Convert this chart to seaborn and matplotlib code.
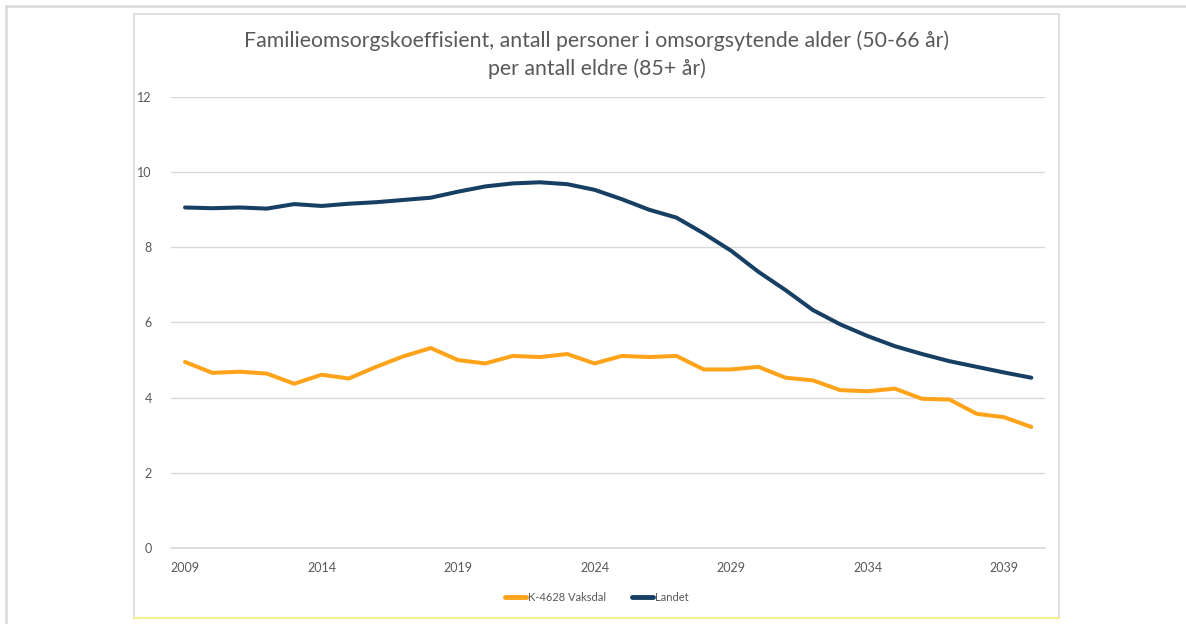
import matplotlib.pyplot as plt
import matplotlib.patches as mpatches
import matplotlib.lines as mlines
import pandas as pd
import seaborn as sns

AAR = list(range(2009, 2041))
VAKSDAL = [4.95, 4.66, 4.69, 4.64, 4.37, 4.61, 4.51, 4.82, 5.10, 5.32,
           5.00, 4.91, 5.11, 5.08, 5.16, 4.91, 5.11, 5.08, 5.11, 4.75,
           4.75, 4.82, 4.53, 4.46, 4.20, 4.17, 4.24, 3.97, 3.95, 3.57,
           3.48, 3.22]
LANDET = [9.06, 9.04, 9.06, 9.03, 9.15, 9.10, 9.16, 9.20, 9.26, 9.32,
          9.48, 9.62, 9.70, 9.73, 9.68, 9.53, 9.28, 9.00, 8.79, 8.37,
          7.91, 7.35, 6.86, 6.33, 5.95, 5.64, 5.37, 5.16, 4.97, 4.82,
          4.67, 4.53]
SERIER = ["K-4628 Vaksdal", "Landet"]
FARGER = ["#FFA31A", "#173F63"]
Y_TICKS = [0, 2, 4, 6, 8, 10, 12]
X_TICKS = [2009, 2014, 2019, 2024, 2029, 2034, 2039]
TITTEL = ("Familieomsorgskoeffisient, antall personer i omsorgsytende alder (50-66 år)\n"
          "per antall eldre (85+ år)")

TEKST = "#595959"
RUTENETT = "#D9D9D9"

df = pd.DataFrame({
    "aar": AAR * 2,
    "verdi": VAKSDAL + LANDET,
    "serie": [SERIER[0]] * len(AAR) + [SERIER[1]] * len(AAR),
})

sns.set_theme(style="white")
plt.rcParams["font.family"] = ["Lato", "DejaVu Sans"]

fig = plt.figure(figsize=(11.86, 6.24), dpi=100)
ax = fig.add_axes([0.1445, 0.1218, 0.7366, 0.7228])

sns.lineplot(df, x="aar", y="verdi", hue="serie", palette=FARGER,
             linewidth=2.9, legend=False, ax=ax)

ax.set_xlim(2008.5, 2040.5)
ax.set_ylim(0, 12)
ax.set_yticks(Y_TICKS)
ax.set_xticks(X_TICKS)
ax.yaxis.grid(True, color=RUTENETT, linewidth=1)
ax.set_axisbelow(True)
for side in ["top", "right", "left"]:
    ax.spines[side].set_visible(False)
ax.spines["bottom"].set_color(RUTENETT)
ax.tick_params(axis="both", length=0, labelsize=9, colors=TEKST)
ax.tick_params(axis="y", pad=14)
ax.tick_params(axis="x", pad=10)
ax.set_xlabel("")
ax.set_ylabel("")

fig.text(0.503, 0.952, TITTEL, ha="center", va="top", fontsize=15.3,
         color=TEKST, linespacing=1.45)

handles = [mlines.Line2D([], [], color=f, linewidth=3.5) for f in FARGER]
fig.legend(handles, SERIER, loc="center", bbox_to_anchor=(0.503, 0.042),
           ncol=2, frameon=False, fontsize=8, labelcolor=TEKST,
           handlelength=1.9, handletextpad=0.2, columnspacing=2.3)

# ytre ramme og diagramramme
fig.add_artist(mlines.Line2D([6 / 1186, 1], [1 - 6 / 624] * 2,
                             transform=fig.transFigure, color="#DCDCDC", linewidth=2))
fig.add_artist(mlines.Line2D([6 / 1186] * 2, [0, 1 - 6 / 624],
                             transform=fig.transFigure, color="#DCDCDC", linewidth=2))
fig.add_artist(mpatches.Rectangle((134 / 1186, 1 - 618 / 624), 925 / 1186, 604 / 624,
                                  transform=fig.transFigure, fill=False,
                                  edgecolor="#D9D9D9", linewidth=1.2))
fig.add_artist(mlines.Line2D([134 / 1186, 1059 / 1186], [1 - 618 / 624] * 2,
                             transform=fig.transFigure, color="#F5F08A", linewidth=1.5))

fig.savefig("out.png", dpi=100)
